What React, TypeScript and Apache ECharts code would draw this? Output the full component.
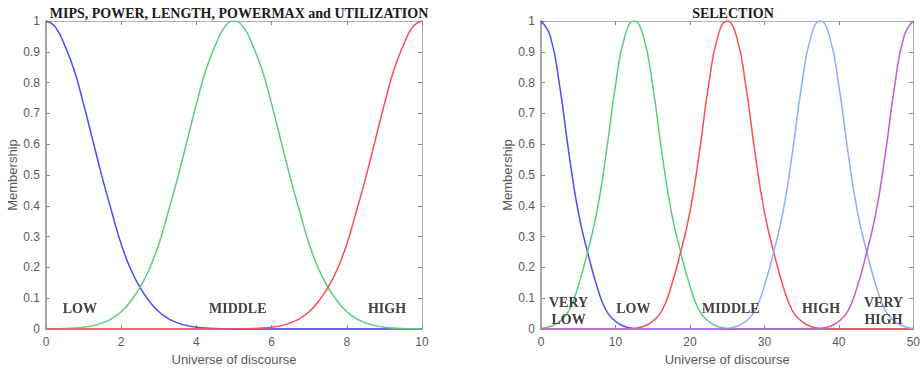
import React, { useEffect, useRef } from "react";
import * as echarts from "echarts";

// ---- Left plot: MIPS, POWER, LENGTH, POWERMAX and UTILIZATION ----
const leftTitle = "MIPS, POWER, LENGTH, POWERMAX and UTILIZATION";
const leftX = [
  0, 0.25, 0.5, 0.75, 1, 1.25, 1.5, 1.75, 2, 2.25, 2.5, 2.75, 3, 3.25, 3.5, 3.75, 4, 4.25, 4.5, 4.75,
  5, 5.25, 5.5, 5.75, 6, 6.25, 6.5, 6.75, 7, 7.25, 7.5, 7.75, 8, 8.25, 8.5, 8.75, 9, 9.25, 9.5, 9.75, 10,
];
const leftLow = [
  1, 0.98, 0.92, 0.84, 0.73, 0.61, 0.49, 0.38, 0.275, 0.195, 0.135, 0.09, 0.056, 0.034, 0.02, 0.011, 0.006, 0.003, 0.0015, 0.0007,
  0, 0, 0, 0, 0, 0, 0, 0, 0, 0, 0, 0, 0, 0, 0, 0, 0, 0, 0, 0, 0,
];
const leftMiddle = [
  0, 0.0007, 0.0015, 0.003, 0.006, 0.011, 0.02, 0.034, 0.056, 0.09, 0.135, 0.195, 0.275, 0.38, 0.49, 0.61, 0.73, 0.84, 0.92, 0.98,
  1, 0.98, 0.92, 0.84, 0.73, 0.61, 0.49, 0.38, 0.275, 0.195, 0.135, 0.09, 0.056, 0.034, 0.02, 0.011, 0.006, 0.003, 0.0015, 0.0007, 0,
];
const leftHigh = [
  0, 0, 0, 0, 0, 0, 0, 0, 0, 0, 0, 0, 0, 0, 0, 0, 0, 0, 0, 0,
  0, 0.0007, 0.0015, 0.003, 0.006, 0.011, 0.02, 0.034, 0.056, 0.09, 0.135, 0.195, 0.275, 0.38, 0.49, 0.61, 0.73, 0.84, 0.92, 0.98, 1,
];
const leftLabels: [number, number, string][] = [
  [0.9, 0.065, "LOW"],
  [5.1, 0.065, "MIDDLE"],
  [9.07, 0.068, "HIGH"],
];

// ---- Right plot: SELECTION ----
const rightTitle = "SELECTION";
const rightX = [
  0, 1.25, 2.5, 3.75, 5, 6.25, 7.5, 8.75, 10, 11.25, 12.5, 13.75, 15, 16.25, 17.5, 18.75, 20, 21.25, 22.5, 23.75,
  25, 26.25, 27.5, 28.75, 30, 31.25, 32.5, 33.75, 35, 36.25, 37.5, 38.75, 40, 41.25, 42.5, 43.75, 45, 46.25, 47.5, 48.75, 50,
];
const rightVeryLow = [
  1, 0.95, 0.79, 0.57, 0.38, 0.25, 0.14, 0.06, 0.025, 0.008, 0.002,
  0, 0, 0, 0, 0, 0, 0, 0, 0, 0, 0, 0, 0, 0, 0, 0, 0, 0, 0, 0, 0, 0, 0, 0, 0, 0, 0, 0, 0, 0,
];
const rightLow = [
  0.002, 0.008, 0.025, 0.06, 0.14, 0.25, 0.38, 0.57, 0.79, 0.95, 1, 0.95, 0.79, 0.57, 0.38, 0.25, 0.14, 0.06, 0.025, 0.008, 0.002,
  0, 0, 0, 0, 0, 0, 0, 0, 0, 0, 0, 0, 0, 0, 0, 0, 0, 0, 0, 0,
];
const rightMiddle = [
  0, 0, 0, 0, 0, 0, 0, 0, 0, 0,
  0.002, 0.008, 0.025, 0.06, 0.14, 0.25, 0.38, 0.57, 0.79, 0.95, 1, 0.95, 0.79, 0.57, 0.38, 0.25, 0.14, 0.06, 0.025, 0.008, 0.002,
  0, 0, 0, 0, 0, 0, 0, 0, 0, 0,
];
const rightHigh = [
  0, 0, 0, 0, 0, 0, 0, 0, 0, 0, 0, 0, 0, 0, 0, 0, 0, 0, 0, 0,
  0.002, 0.008, 0.025, 0.06, 0.14, 0.25, 0.38, 0.57, 0.79, 0.95, 1, 0.95, 0.79, 0.57, 0.38, 0.25, 0.14, 0.06, 0.025, 0.008, 0.002,
];
const rightVeryHigh = [
  0, 0, 0, 0, 0, 0, 0, 0, 0, 0, 0, 0, 0, 0, 0, 0, 0, 0, 0, 0, 0, 0, 0, 0, 0, 0, 0, 0, 0, 0,
  0.002, 0.008, 0.025, 0.06, 0.14, 0.25, 0.38, 0.57, 0.79, 0.95, 1,
];
const rightLabels: [number, number, string][] = [
  [3.7, 0.057, "VERY\nLOW"],
  [12.4, 0.065, "LOW"],
  [25.5, 0.065, "MIDDLE"],
  [37.6, 0.065, "HIGH"],
  [46.0, 0.058, "VERY\nHIGH"],
];

const xName = "Universe of discourse";
const yName = "Membership";

const SANS = "Liberation Sans, Arial, sans-serif";
const SERIF = "Liberation Serif, Times New Roman, serif";
const AXIS_COLOR = "#8a8a8a";
const TEXT_COLOR = "#5a5a5a";

const zip = (xs: number[], ys: number[]) => xs.map((x, i) => [x, ys[i]]);

function bottomX(grid: number, max: number, interval: number) {
  return {
    type: "value",
    gridIndex: grid,
    position: "bottom",
    min: 0,
    max,
    interval,
    name: xName,
    nameLocation: "middle",
    nameGap: 21,
    nameTextStyle: { fontFamily: SANS, fontSize: 13, color: TEXT_COLOR },
    axisLine: { show: true, onZero: false, lineStyle: { color: AXIS_COLOR, width: 1.5 } },
    axisTick: { show: true, inside: true, length: 4, lineStyle: { color: AXIS_COLOR } },
    axisLabel: { fontFamily: SANS, fontSize: 12, color: TEXT_COLOR, margin: 7 },
    splitLine: { show: false },
  };
}
function topX(grid: number, max: number, interval: number) {
  return {
    type: "value",
    gridIndex: grid,
    position: "top",
    min: 0,
    max,
    interval,
    axisLine: { show: true, onZero: false, lineStyle: { color: "#b0b0b0", width: 1 } },
    axisTick: { show: true, inside: true, length: 4, lineStyle: { color: AXIS_COLOR } },
    axisLabel: { show: false },
    splitLine: { show: false },
  };
}
function leftY(grid: number) {
  return {
    type: "value",
    gridIndex: grid,
    position: "left",
    min: 0,
    max: 1,
    interval: 0.1,
    name: yName,
    nameLocation: "middle",
    nameGap: 27,
    nameTextStyle: { fontFamily: SANS, fontSize: 13, color: TEXT_COLOR },
    axisLine: { show: true, onZero: false, lineStyle: { color: AXIS_COLOR, width: 1.5 } },
    axisTick: { show: true, inside: true, length: 4, lineStyle: { color: AXIS_COLOR } },
    axisLabel: { fontFamily: SANS, fontSize: 12, color: TEXT_COLOR, margin: 6 },
    splitLine: { show: false },
  };
}
function rightY(grid: number) {
  return {
    type: "value",
    gridIndex: grid,
    position: "right",
    min: 0,
    max: 1,
    interval: 0.1,
    axisLine: { show: true, onZero: false, lineStyle: { color: "#b0b0b0", width: 1 } },
    axisTick: { show: true, inside: true, length: 4, lineStyle: { color: AXIS_COLOR } },
    axisLabel: { show: false },
    splitLine: { show: false },
  };
}

function mfLine(xIdx: number, yIdx: number, xs: number[], ys: number[], color: string) {
  return {
    type: "line",
    xAxisIndex: xIdx,
    yAxisIndex: yIdx,
    data: zip(xs, ys),
    smooth: 0.5,
    showSymbol: false,
    symbol: "none",
    lineStyle: { color, width: 1.5 },
    silent: true,
  };
}

function labelSeries(xIdx: number, yIdx: number, items: [number, number, string][]) {
  return {
    type: "scatter",
    xAxisIndex: xIdx,
    yAxisIndex: yIdx,
    symbolSize: 1,
    itemStyle: { color: "rgba(0,0,0,0)" },
    data: items.map((d) => ({ value: [d[0], d[1]], name: d[2] })),
    label: {
      show: true,
      position: "inside",
      formatter: (p: any) => p.name,
      fontFamily: SERIF,
      fontWeight: "bold",
      fontSize: 14,
      lineHeight: 17,
      align: "center",
      color: "#1e1e1e",
      textShadowColor: "rgba(0,0,0,0.25)",
      textShadowBlur: 1,
    },
    silent: true,
    z: 10,
  };
}

export default function App() {
  const ref = useRef<HTMLDivElement>(null);
  useEffect(() => {
    if (!ref.current) return;
    const chart = echarts.init(ref.current, undefined, { renderer: "svg" });
    const BLUE = "#4b4bff";
    const GREEN = "#5ccc7a";
    const RED = "#ff4d4d";
    const LIGHTBLUE = "#8fadff";
    const PURPLE = "#c45ad0";
    chart.setOption({
      animation: false,
      backgroundColor: "#ffffff",
      title: [
        {
          text: leftTitle,
          left: 234,
          top: 1,
          textAlign: "center",
          textStyle: { fontFamily: SERIF, fontWeight: "bold", fontSize: 14, color: "#1a1a1a" },
        },
        {
          text: rightTitle,
          left: 728,
          top: 1,
          textAlign: "center",
          textStyle: { fontFamily: SERIF, fontWeight: "bold", fontSize: 14, color: "#1a1a1a" },
        },
      ],
      grid: [
        { left: 46, right: 501, top: 21, bottom: 43 },
        { left: 541, right: 8, top: 21, bottom: 43 },
      ],
      xAxis: [bottomX(0, 10, 2), topX(0, 10, 2), bottomX(1, 50, 10), topX(1, 50, 10)],
      yAxis: [leftY(0), rightY(0), leftY(1), rightY(1)],
      series: [
        mfLine(0, 0, leftX, leftLow, BLUE),
        mfLine(0, 0, leftX, leftMiddle, GREEN),
        mfLine(0, 0, leftX, leftHigh, RED),
        labelSeries(0, 0, leftLabels),
        mfLine(2, 2, rightX, rightVeryLow, BLUE),
        mfLine(2, 2, rightX, rightLow, GREEN),
        mfLine(2, 2, rightX, rightMiddle, RED),
        mfLine(2, 2, rightX, rightHigh, LIGHTBLUE),
        mfLine(2, 2, rightX, rightVeryHigh, PURPLE),
        labelSeries(2, 2, rightLabels),
      ],
    });
    return () => chart.dispose();
  }, []);
  return (
    <div
      ref={ref}
      style={{ position: "fixed", left: 0, top: 0, width: 923, height: 372, background: "#fff" }}
    />
  );
}
